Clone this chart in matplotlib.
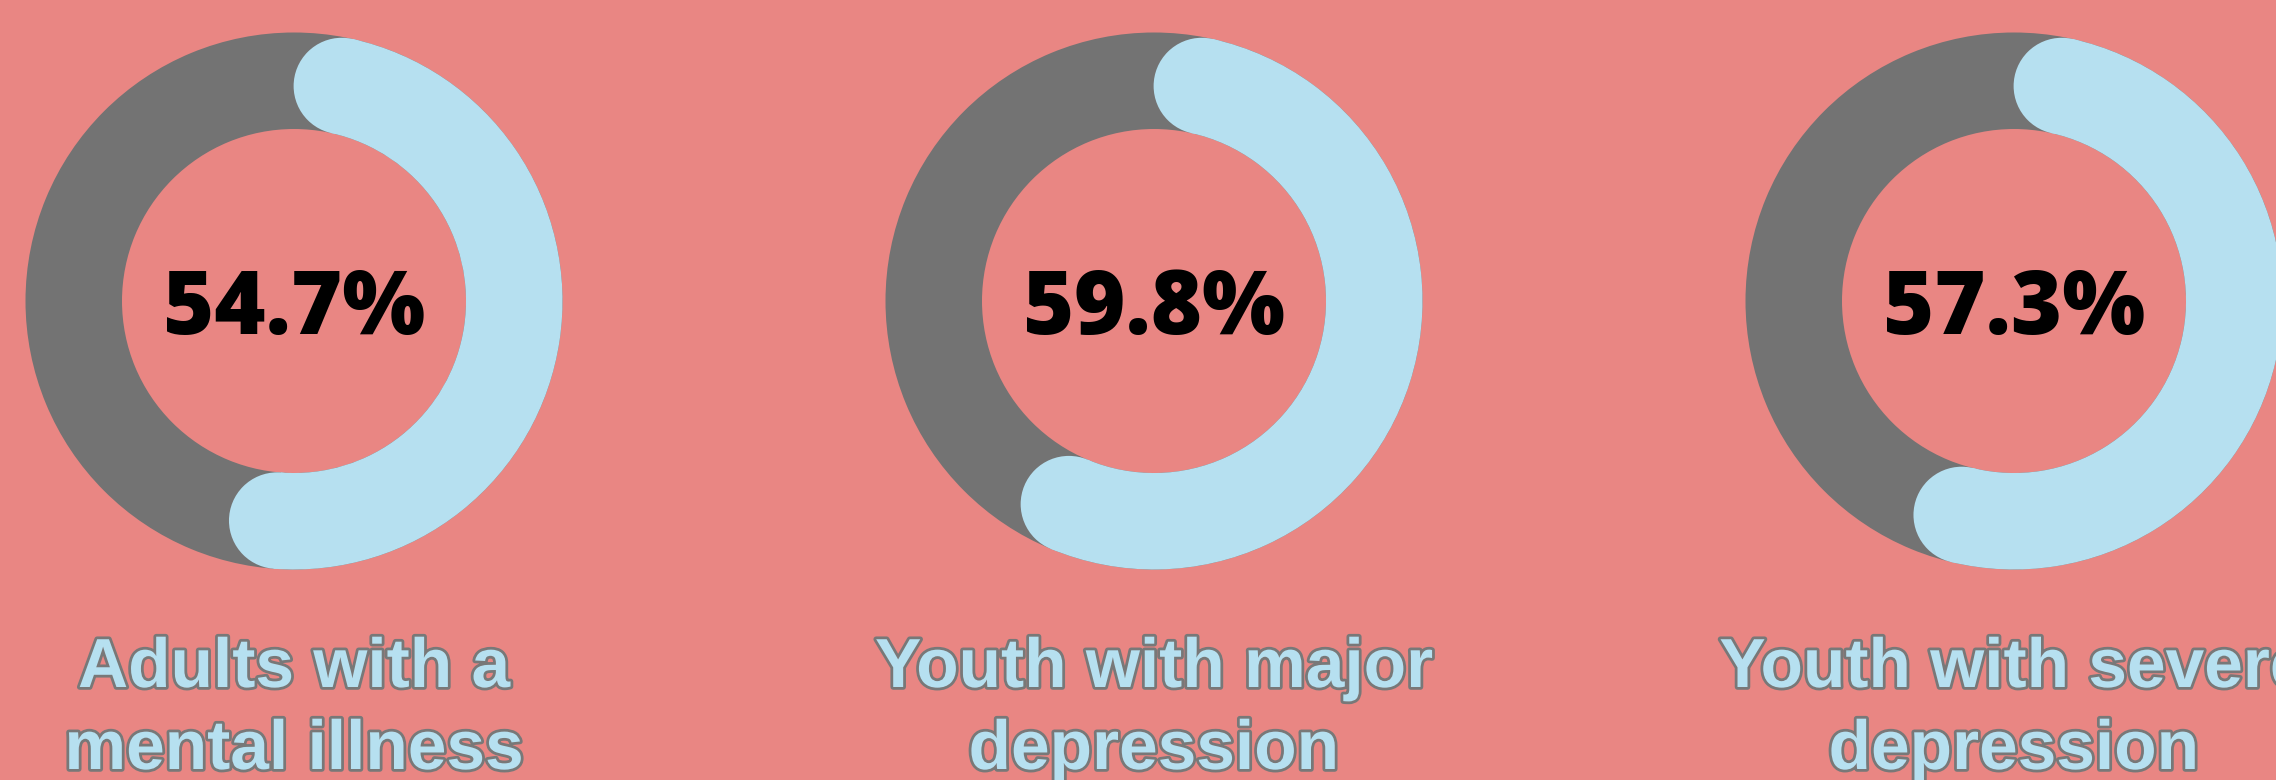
import matplotlib
matplotlib.use("Agg")
import matplotlib.pyplot as plt
from matplotlib.patches import Wedge, Circle
import matplotlib.patheffects as pe
import numpy as np

# ---- data ----
percentages = [54.7, 59.8, 57.3]
value_labels = ["54.7%", "59.8%", "57.3%"]
category_labels = [
    ["Adults with a", "mental illness"],
    ["Youth with major", "depression"],
    ["Youth with severe", "depression"],
]

# ---- style ----
BG = "#E98683"
TRACK = "#737373"
ARC = "#B6E0F0"
OUTLINE = "#787878"

W, H = 2276, 780
fig = plt.figure(figsize=(W / 100, H / 100), dpi=100)
fig.patch.set_facecolor(BG)
ax = fig.add_axes([0, 0, 1, 1])
ax.set_facecolor(BG)
ax.set_xlim(0, W)
ax.set_ylim(H, 0)
ax.set_aspect("equal")
ax.axis("off")

centers_x = [294, 1154, 2014]
cy = 301
R_out = 268.5
ring_w = 96.5
r_mid = R_out - ring_w / 2
cap_deg = np.degrees((ring_w / 2) / r_mid)

for cx, pct, vlab, clab in zip(centers_x, percentages, value_labels, category_labels):
    ax.add_patch(Wedge((cx, cy), R_out, 0, 360, width=ring_w, facecolor=TRACK, edgecolor="none"))
    span = pct / 100 * 360
    a1 = cap_deg
    a2 = span - cap_deg
    ax.add_patch(Wedge((cx, cy), R_out, -90 + a1, -90 + a2, width=ring_w,
                       facecolor=ARC, edgecolor="none"))
    for a in (a1, a2):
        th = np.radians(-90 + a)
        ax.add_patch(Circle((cx + r_mid * np.cos(th), cy + r_mid * np.sin(th)),
                            ring_w / 2, facecolor=ARC, edgecolor="none"))
    ax.text(cx, 334, vlab, ha="center", va="baseline", fontsize=63,
            fontweight="heavy", family="Open Sans", color="black")
    for line, yb in zip(clab, (687, 769)):
        ax.text(cx, yb, line, ha="center", va="baseline", fontsize=50,
                fontweight="bold", family="Liberation Sans", color=ARC,
                path_effects=[pe.withStroke(linewidth=4, foreground=OUTLINE)])

fig.savefig("out.png", dpi=100, facecolor=BG)
